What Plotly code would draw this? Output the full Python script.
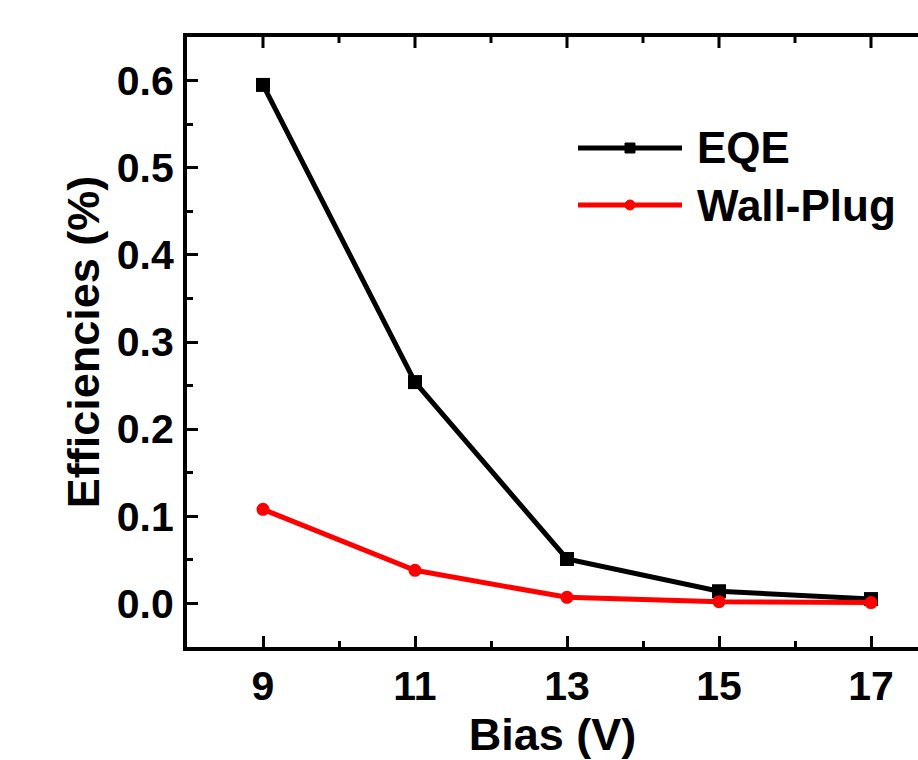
import plotly.graph_objects as go

# Measured efficiencies versus applied bias
bias_v = [9, 11, 13, 15, 17]
eqe_pct = [0.595, 0.254, 0.051, 0.014, 0.005]
wallplug_pct = [0.108, 0.038, 0.007, 0.002, 0.001]

x_ticks = [9, 11, 13, 15, 17]
x_minor = [10, 12, 14, 16]
y_ticks = [0.0, 0.1, 0.2, 0.3, 0.4, 0.5, 0.6]

FONT = "Liberation Sans, Arial, Helvetica, sans-serif"
W, H = 918, 760
ML, MT, MB, MR = 187, 37, 113, 0
X_RANGE = [8, 8 + (W - ML - MR) / 76.0]

fig = go.Figure()
fig.add_trace(go.Scatter(
    x=bias_v, y=eqe_pct, name="EQE", mode="lines+markers",
    line=dict(color="black", width=5),
    marker=dict(symbol="square", size=14, color="black"),
    cliponaxis=False,
))
fig.add_trace(go.Scatter(
    x=bias_v, y=wallplug_pct, name="Wall-Plug", mode="lines+markers",
    line=dict(color="#ff0000", width=5),
    marker=dict(symbol="circle", size=13, color="#ff0000"),
    cliponaxis=False,
))

axis_common = dict(
    showgrid=False, zeroline=False,
    showline=True, linecolor="black", linewidth=4,
    ticks="inside", ticklen=11, tickwidth=3, tickcolor="black",
    tickfont=dict(family=FONT, size=41, color="black", weight="bold"),
    minor=dict(ticks="inside", ticklen=6, tickwidth=3, tickcolor="black"),
)

fig.update_layout(
    xaxis=dict(
        **axis_common,
        range=X_RANGE,
        tickvals=x_ticks, ticktext=[str(v) for v in x_ticks],
        minor_dtick=1, minor_tick0=0,
        mirror=True,
        ticklabelstandoff=0,
        title=dict(text="Bias (V)", standoff=4,
                   font=dict(family=FONT, size=45, color="black", weight="bold")),
    ),
    yaxis=dict(
        **axis_common,
        range=[-0.05, 0.65],
        tickvals=y_ticks, ticktext=[f"{v:.1f}" for v in y_ticks],
        minor_dtick=0.05, minor_tick0=0,
        mirror=False,
        ticklabelstandoff=1,
        title=dict(text="Efficiencies (%)", standoff=4,
                   font=dict(family=FONT, size=45, color="black", weight="bold")),
    ),
)

shapes = []

# Inward ticks along the top frame edge, placed on the x data scale
for vals, length in ((x_ticks, 11), (x_minor, 6)):
    for v in vals:
        shapes.append(dict(type="line", xref="x", yref="paper",
                           x0=v, x1=v, ysizemode="pixel", yanchor=1,
                           y0=0, y1=-length,
                           line=dict(color="black", width=3)))

# Legend drawn in paper space with long line samples
plot_w = W - ML - MR
plot_h = H - MT - MB


def px_x(p):
    return (p - ML) / plot_w


def px_y(p):
    return (H - MB - p) / plot_h


legend_rows = [
    ("EQE", "black", "square", 148),
    ("Wall-Plug", "#ff0000", "circle", 205),
]
annotations = []
for label, color, sym, ypx in legend_rows:
    yp = px_y(ypx)
    shapes.append(dict(type="line", xref="paper", yref="paper",
                       x0=px_x(578), x1=px_x(682), y0=yp, y1=yp,
                       line=dict(color=color, width=5)))
    shapes.append(dict(type="rect" if sym == "square" else "circle",
                       xref="paper", yref="paper",
                       xsizemode="pixel", ysizemode="pixel",
                       xanchor=px_x(630), yanchor=yp,
                       x0=-5, x1=5, y0=-5, y1=5,
                       fillcolor=color, line=dict(color=color, width=1)))
    annotations.append(dict(text=label, xref="paper", yref="paper",
                            x=px_x(695), y=yp, xanchor="left", yanchor="middle",
                            showarrow=False,
                            font=dict(family=FONT, size=44, color="black", weight="bold")))

fig.update_layout(
    width=W, height=H,
    margin=dict(l=ML, r=MR, t=MT, b=MB, pad=0),
    paper_bgcolor="white", plot_bgcolor="white",
    showlegend=False,
    shapes=shapes, annotations=annotations,
)

fig.write_html("out.html")
